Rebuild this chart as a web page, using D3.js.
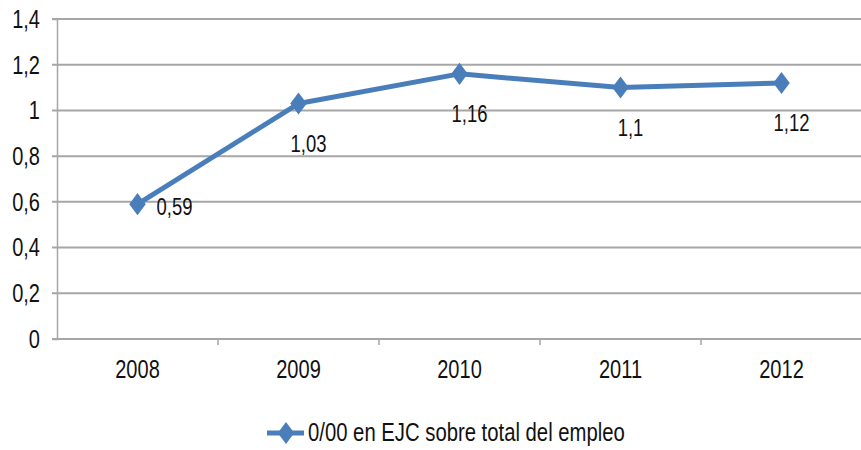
<!DOCTYPE html>
<html>
<head>
<meta charset="utf-8">
<script src="https://cdn.jsdelivr.net/npm/d3@7"></script>
<style>
  body { margin: 0; background: #fff; }
  text { font-family: "Liberation Sans", Arial, sans-serif; }
</style>
</head>
<body>
<div id="chart"></div>
<script>
// data
var years = ["2008", "2009", "2010", "2011", "2012"];
var values = [0.59, 1.03, 1.16, 1.1, 1.12];
var valueLabels = ["0,59", "1,03", "1,16", "1,1", "1,12"];
var labelPlacement = ["right", "below", "below", "below", "below"];
var yTicks = [0, 0.2, 0.4, 0.6, 0.8, 1, 1.2, 1.4];
var seriesName = "0/00 en EJC sobre total del empleo";

var width = 861;
var height = 450;
var margin = { top: 19, right: 0, bottom: 110, left: 57 };
var blue = "#4a7ebb";

var svg = d3.select("#chart")
  .append("svg")
  .attr("width", width)
  .attr("height", height);

var xScale = d3.scaleBand()
  .domain(years)
  .range([margin.left, margin.left + 805]);

var yScale = d3.scaleLinear()
  .domain([0, 1.4])
  .range([height - margin.bottom - 1, margin.top]);

var fmt = function (v) { return d3.format("")(v).replace(".", ","); };

// squeeze text horizontally (narrow font look)
function condense(sel, k) {
  sel.each(function () {
    var len = this.getComputedTextLength();
    d3.select(this)
      .attr("textLength", len * k)
      .attr("lengthAdjust", "spacingAndGlyphs");
  });
}

// custom diamond, a bit taller than wide
var diamondType = {
  draw: function (ctx, size) {
    var h = Math.sqrt(size) * 0.9, w = h * 0.75;
    ctx.moveTo(0, -h);
    ctx.lineTo(w, 0);
    ctx.lineTo(0, h);
    ctx.lineTo(-w, 0);
    ctx.closePath();
  }
};
var diamond = d3.symbol().type(diamondType).size(150);

// grid lines
svg.append("g")
  .selectAll("line")
  .data(yTicks)
  .enter()
  .append("line")
  .attr("x1", margin.left - 5)
  .attr("x2", width)
  .attr("y1", function (d) { return yScale(d); })
  .attr("y2", function (d) { return yScale(d); })
  .attr("stroke", "#a6a6a6")
  .attr("stroke-width", 2);

// y axis
var yAxis = svg.append("g")
  .attr("transform", "translate(" + margin.left + ",0)")
  .call(d3.axisLeft(yScale).tickValues(yTicks).tickSize(5).tickPadding(12).tickFormat(fmt));
yAxis.select(".domain").attr("stroke", "#a6a6a6").attr("stroke-width", 1.5);
yAxis.selectAll(".tick line").remove();
yAxis.selectAll("text").attr("font-size", 26).attr("fill", "#111").call(condense, 0.77);

// x axis
var xAxis = svg.append("g")
  .attr("transform", "translate(0," + yScale(0) + ")")
  .call(d3.axisBottom(xScale).tickSize(0).tickPadding(21));
xAxis.select(".domain").remove();
xAxis.selectAll("text").attr("font-size", 26).attr("fill", "#111").call(condense, 0.77);

// boundary ticks on x axis
svg.append("g")
  .selectAll("line")
  .data(years.slice(1))
  .enter()
  .append("line")
  .attr("x1", function (d) { return xScale(d); })
  .attr("x2", function (d) { return xScale(d); })
  .attr("y1", yScale(0))
  .attr("y2", yScale(0) + 6)
  .attr("stroke", "#a6a6a6")
  .attr("stroke-width", 1.5);

var cx = function (d, i) { return xScale(years[i]) + xScale.bandwidth() / 2; };

// line
var line = d3.line()
  .x(function (d, i) { return cx(d, i); })
  .y(function (d) { return yScale(d); });

svg.append("path")
  .datum(values)
  .attr("d", line)
  .attr("fill", "none")
  .attr("stroke", blue)
  .attr("stroke-width", 5)
  .attr("stroke-linejoin", "round");

// markers
svg.append("g")
  .selectAll("path")
  .data(values)
  .enter()
  .append("path")
  .attr("d", diamond)
  .attr("transform", function (d, i) { return "translate(" + cx(d, i) + "," + yScale(d) + ")"; })
  .attr("fill", blue);

// data labels
svg.append("g")
  .selectAll("text")
  .data(values)
  .enter()
  .append("text")
  .attr("x", function (d, i) { return labelPlacement[i] === "right" ? cx(d, i) + 19 : cx(d, i) + 10; })
  .attr("y", function (d, i) { return labelPlacement[i] === "right" ? yScale(d) + 5 : yScale(d) + 42; })
  .attr("text-anchor", function (d, i) { return labelPlacement[i] === "right" ? "start" : "middle"; })
  .attr("dominant-baseline", "middle")
  .attr("font-size", 24)
  .attr("fill", "#111")
  .text(function (d, i) { return valueLabels[i]; })
  .call(condense, 0.77);

// legend
var legend = svg.append("g").attr("transform", "translate(267,433)");
legend.append("line")
  .attr("x1", 0).attr("x2", 37)
  .attr("stroke", blue).attr("stroke-width", 5);
legend.append("path")
  .attr("d", diamond)
  .attr("transform", "translate(19,0)")
  .attr("fill", blue);
legend.append("text")
  .attr("x", 41)
  .attr("y", 1)
  .attr("dominant-baseline", "middle")
  .attr("font-size", 26)
  .attr("fill", "#111")
  .text(seriesName)
  .call(condense, 0.78);
</script>
</body>
</html>
